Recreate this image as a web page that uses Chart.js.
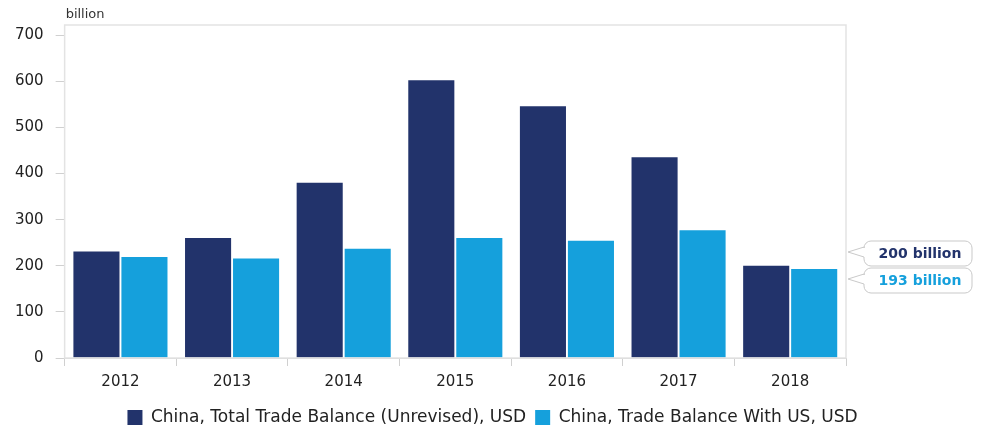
<!DOCTYPE html>
<html>
<head>
<meta charset="utf-8">
<script src="https://cdn.jsdelivr.net/npm/chart.js@4"></script>
<style>
  html, body { margin: 0; padding: 0; background: #fff; }
  #wrap { width: 982px; height: 428px; position: relative; }
</style>
</head>
<body>
<div id="wrap"><canvas id="myChart" width="982" height="428"></canvas></div>
<script>
// data
const years = ["2012", "2013", "2014", "2015", "2016", "2017", "2018"];
const totalBalance = [231, 260, 380, 602, 546, 435, 200];
const balanceWithUS = [219, 216, 237, 260, 254, 277, 193];
const yTicks = [0, 100, 200, 300, 400, 500, 600, 700];
const seriesNames = ["China, Total Trade Balance (Unrevised), USD", "China, Trade Balance With US, USD"];
const calloutTexts = ["200 billion", "193 billion"];

const dark = "#22336b";
const light = "#15a0dc";
const fontFamily = "'DejaVu Sans', 'Liberation Sans', sans-serif";

// frame around the plot, unit label, callouts on the right
const extras = {
  id: "extras",
  afterDraw(chart) {
    const { ctx, chartArea: a } = chart;
    ctx.save();
    ctx.strokeStyle = "#e3e3e3";
    ctx.lineWidth = 1.5;
    ctx.strokeRect(a.left, a.top, a.right - a.left, a.bottom - a.top);

    ctx.fillStyle = "#333";
    ctx.font = "13px " + fontFamily;
    ctx.textBaseline = "alphabetic";
    ctx.fillText("billion", a.left + 1, 18);

    const colors = [dark, light];
    const boxes = [
      { y: 241, tipY: 252 },
      { y: 268, tipY: 279 }
    ];
    boxes.forEach((b, i) => {
      const x = a.right + 18, w = 108, h = 25, r = 7;
      ctx.beginPath();
      ctx.moveTo(x + r, b.y);
      ctx.lineTo(x + w - r, b.y);
      ctx.arcTo(x + w, b.y, x + w, b.y + r, r);
      ctx.lineTo(x + w, b.y + h - r);
      ctx.arcTo(x + w, b.y + h, x + w - r, b.y + h, r);
      ctx.lineTo(x + r, b.y + h);
      ctx.arcTo(x, b.y + h, x, b.y + h - r, r);
      ctx.lineTo(x, b.tipY + 5);
      ctx.lineTo(a.right + 2, b.tipY);
      ctx.lineTo(x, b.tipY - 5);
      ctx.lineTo(x, b.y + r);
      ctx.arcTo(x, b.y, x + r, b.y, r);
      ctx.closePath();
      ctx.fillStyle = "#fff";
      ctx.fill();
      ctx.strokeStyle = "#c9c9c9";
      ctx.lineWidth = 1;
      ctx.stroke();
      ctx.fillStyle = colors[i];
      ctx.font = "bold 14px " + fontFamily;
      ctx.textAlign = "center";
      ctx.textBaseline = "middle";
      ctx.fillText(calloutTexts[i], x + w / 2 + 2, b.y + h / 2 + 1);
    });
    ctx.restore();
  }
};

new Chart("myChart", {
  type: "bar",
  data: {
    labels: years,
    datasets: [
      {
        label: seriesNames[0],
        data: totalBalance,
        backgroundColor: dark,
        barPercentage: 0.96,
        categoryPercentage: 0.86
      },
      {
        label: seriesNames[1],
        data: balanceWithUS,
        backgroundColor: light,
        barPercentage: 0.96,
        categoryPercentage: 0.86
      }
    ]
  },
  options: {
    responsive: false,
    animation: false,
    layout: { padding: { top: 25, right: 0, left: 3, bottom: -8 } },
    plugins: {
      tooltip: { enabled: false },
      legend: {
        position: "bottom",
        labels: {
          color: "#222",
          font: { family: fontFamily, size: 17 },
          boxWidth: 15,
          boxHeight: 15,
          padding: 9
        }
      }
    },
    scales: {
      x: {
        grid: { drawOnChartArea: false, offset: true, tickLength: 8, color: "#d0d0d0" },
        border: { color: "#d0d0d0" },
        ticks: { color: "#222", font: { family: fontFamily, size: 15 }, padding: 7 },
        afterFit(scale) {
          scale.height += 2;
        }
      },
      y: {
        min: 0,
        max: 722,
        afterBuildTicks(scale) {
          scale.ticks = yTicks.map(v => ({ value: v }));
        },
        ticks: { color: "#222", font: { family: fontFamily, size: 15 }, padding: 12 },
        grid: { drawOnChartArea: false, tickLength: 9, color: "#d0d0d0" },
        border: { color: "#d0d0d0" }
      },
      // empty right-hand axis that only reserves room for the callouts
      side: {
        position: "right",
        grid: { display: false },
        ticks: { display: false },
        border: { display: false },
        afterFit(scale) {
          scale.width = 136;
        }
      }
    }
  },
  plugins: [extras]
});
</script>
</body>
</html>
